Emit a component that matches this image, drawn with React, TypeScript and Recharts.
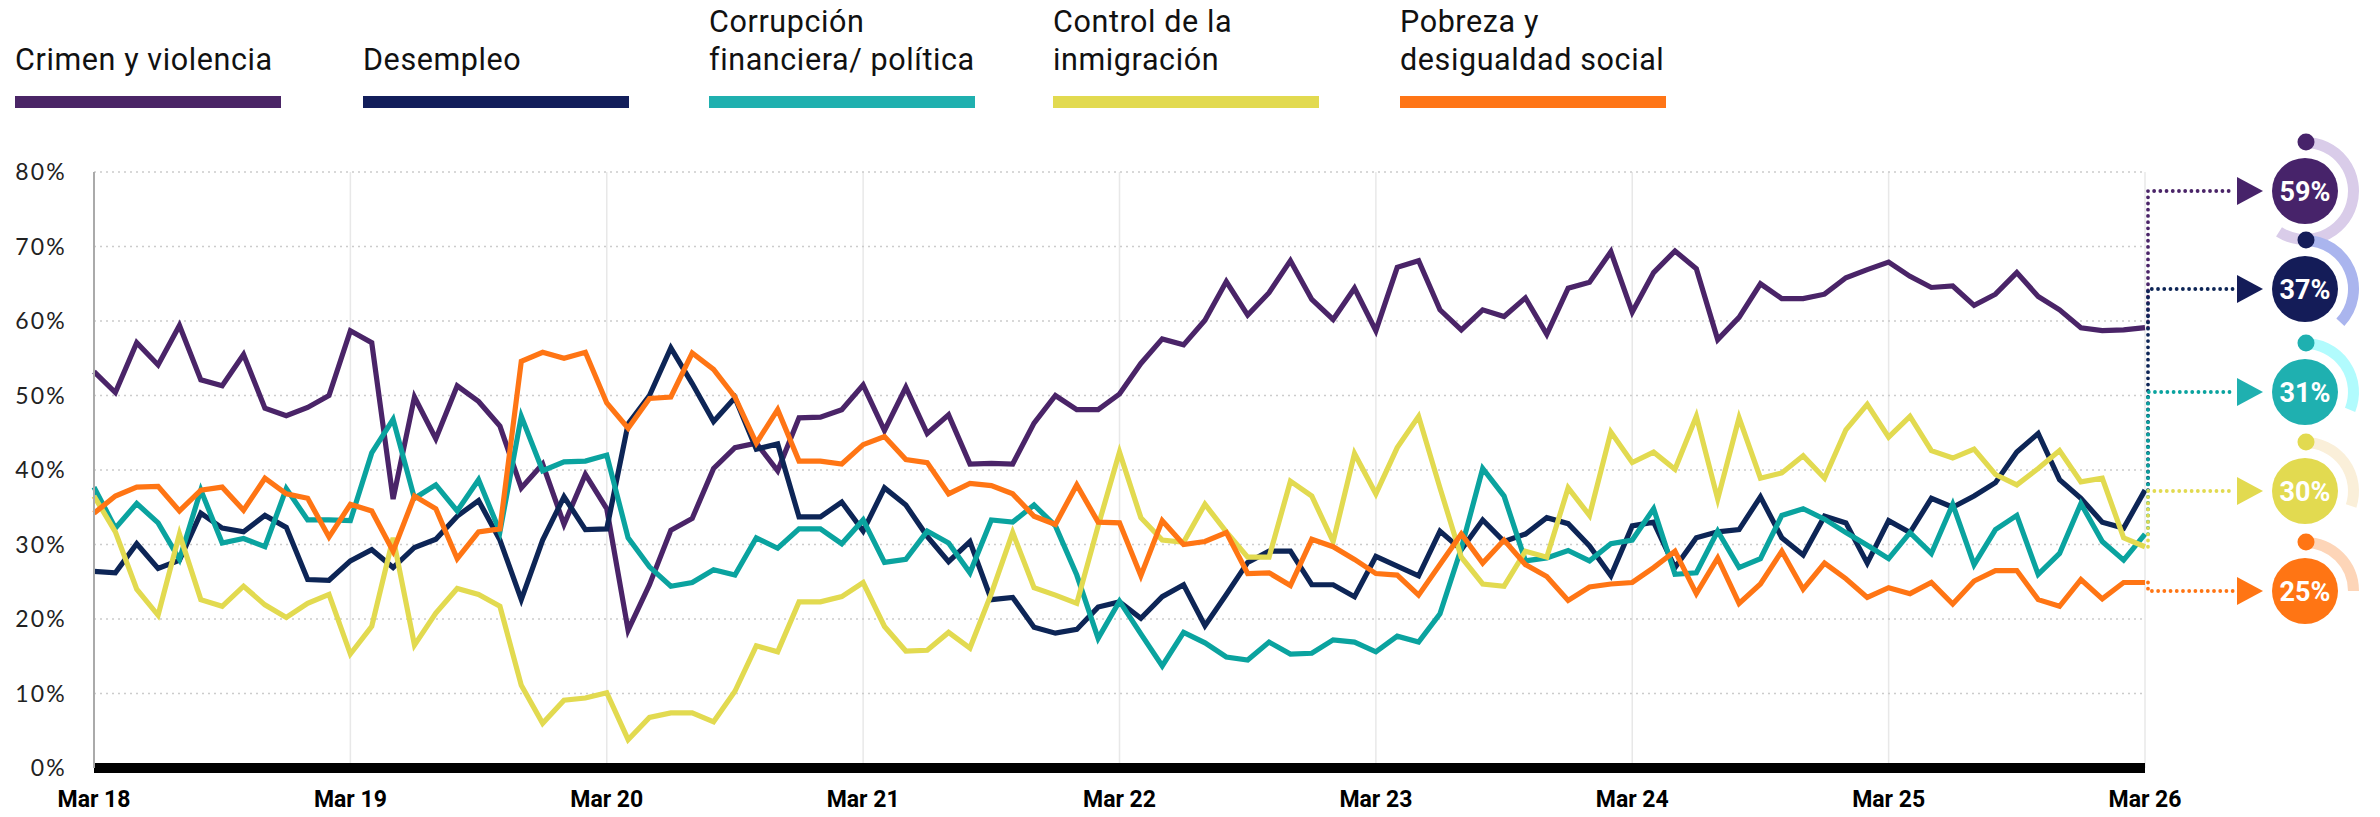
import React from 'react';
import { LineChart, Line, XAxis, YAxis, CartesianGrid } from 'recharts';

// ---------- categories ----------
const monthNames = ['Ene', 'Feb', 'Mar', 'Abr', 'May', 'Jun', 'Jul', 'Ago', 'Sep', 'Oct', 'Nov', 'Dic'];
const months: string[] = [];
for (let i = 0; i < 97; i++) {
  const m = (2 + i) % 12;
  const y = 18 + Math.floor((2 + i) / 12);
  months.push(`${monthNames[m]} ${y}`);
}
const xTicks = [0, 12, 24, 36, 48, 60, 72, 84, 96];
const yTicks = [0, 10, 20, 30, 40, 50, 60, 70, 80];

// ---------- series values (%) ----------
const crimen = [
  53.2, 50.4, 57.1, 54.1, 59.4, 52.1, 51.3, 55.5, 48.3, 47.3, 48.4, 50.0, 58.7,
  57.1, 36.1, 49.8, 44.2, 51.3, 49.2, 45.9, 37.6, 40.8, 32.7, 39.4, 34.8,
  18.5, 24.6, 31.9, 33.5, 40.2, 43.0, 43.6, 39.9, 47.0, 47.1, 48.1, 51.4,
  45.3, 51.1, 44.9, 47.4, 40.8, 40.9, 40.8, 46.3, 50.0, 48.1, 48.1, 50.2,
  54.3, 57.6, 56.8, 60.1, 65.3, 60.8, 63.8, 68.1, 62.9, 60.2, 64.4, 58.7,
  67.2, 68.1, 61.5, 58.8, 61.5, 60.6, 63.1, 58.2, 64.4, 65.2, 69.3, 61.2,
  66.5, 69.4, 67.0, 57.5, 60.5, 65.0, 63.0, 63.0, 63.6, 65.8, 66.9, 67.9,
  66.0, 64.5, 64.7, 62.1, 63.6, 66.5, 63.3, 61.5, 59.1, 58.7, 58.8, 59.1,
];
const desempleo = [
  26.4, 26.2, 30.1, 26.8, 27.9, 34.2, 32.2, 31.7, 33.9, 32.3, 25.3, 25.2, 27.8,
  29.3, 26.9, 29.6, 30.7, 33.8, 35.9, 30.6, 22.6, 30.6, 36.4, 32.0, 32.1,
  46.2, 50.0, 56.4, 51.6, 46.5, 49.7, 42.8, 43.5, 33.7, 33.7, 35.7, 31.8,
  37.6, 35.3, 31.1, 27.7, 30.4, 22.6, 22.9, 18.9, 18.1, 18.6, 21.6, 22.3,
  20.1, 23.0, 24.6, 19.1, 23.3, 27.6, 29.1, 29.1, 24.6, 24.6, 23.0, 28.4,
  27.1, 25.8, 31.8, 29.3, 33.3, 30.4, 31.4, 33.6, 32.8, 29.8, 25.8, 32.5,
  33.0, 26.9, 30.9, 31.7, 32.0, 36.4, 30.9, 28.6, 33.8, 32.9, 27.5, 33.2,
  31.6, 36.2, 35.0, 36.5, 38.3, 42.4, 44.9, 38.7, 36.2, 33.0, 32.2, 37.3,
];
const corrupcion = [
  37.7, 32.2, 35.5, 32.9, 28.0, 37.3, 30.2, 30.8, 29.7, 37.5, 33.3, 33.3, 33.2,
  42.3, 46.8, 36.2, 38.0, 34.5, 38.7, 31.7, 47.2, 39.9, 41.1, 41.2, 42.0,
  30.9, 27.0, 24.4, 24.9, 26.6, 25.9, 30.9, 29.5, 32.1, 32.1, 30.1, 33.3,
  27.6, 28.0, 31.8, 30.2, 26.2, 33.3, 33.0, 35.3, 32.5, 25.9, 17.4, 22.4,
  18.0, 13.7, 18.2, 16.8, 14.9, 14.5, 16.9, 15.3, 15.4, 17.2, 16.9, 15.6,
  17.7, 16.9, 20.7, 29.5, 40.2, 36.5, 27.8, 28.2, 29.2, 27.8, 30.1, 30.6,
  34.8, 26.0, 26.2, 31.8, 26.9, 28.1, 33.9, 34.8, 33.4, 31.6, 29.9, 28.1,
  31.6, 28.8, 35.4, 27.3, 32.0, 33.9, 26.0, 28.8, 35.5, 30.4, 27.9, 31.4,
];
const inmigracion = [
  36.5, 31.7, 24.0, 20.5, 31.4, 22.6, 21.7, 24.4, 21.9, 20.2, 22.1, 23.3, 15.3,
  19.0, 30.9, 16.5, 20.8, 24.1, 23.3, 21.7, 11.1, 6.0, 9.1, 9.4, 10.1,
  3.8, 6.8, 7.4, 7.4, 6.2, 10.3, 16.4, 15.6, 22.3, 22.3, 23.0, 24.9,
  19.0, 15.7, 15.8, 18.2, 16.1, 23.4, 31.6, 24.2, 23.2, 22.1, 32.5, 42.4,
  33.6, 30.6, 30.3, 35.4, 31.7, 28.3, 28.3, 38.5, 36.5, 30.4, 42.2, 36.8,
  43.0, 47.2, 37.6, 28.3, 24.7, 24.4, 29.1, 28.3, 37.6, 33.9, 45.1, 41.0,
  42.4, 40.1, 47.2, 36.1, 47.0, 38.9, 39.6, 41.9, 38.9, 45.4, 48.8, 44.4,
  47.2, 42.6, 41.6, 42.8, 39.4, 38.0, 40.2, 42.6, 38.4, 38.9, 30.9, 29.7,
];
const pobreza = [
  34.2, 36.5, 37.7, 37.8, 34.5, 37.3, 37.7, 34.6, 38.9, 36.8, 36.2, 31.0, 35.4,
  34.5, 29.1, 36.5, 34.8, 28.1, 31.7, 32.1, 54.6, 55.8, 55.0, 55.8, 49.0,
  45.6, 49.6, 49.8, 55.7, 53.5, 49.8, 43.6, 48.1, 41.2, 41.2, 40.8, 43.4,
  44.5, 41.4, 41.0, 36.8, 38.2, 37.9, 36.8, 33.8, 32.7, 38.0, 33.0, 32.9,
  25.8, 33.2, 30.0, 30.4, 31.6, 26.1, 26.2, 24.5, 30.7, 29.7, 28.0, 26.1,
  25.9, 23.2, 27.3, 31.4, 27.5, 30.6, 27.3, 25.7, 22.5, 24.3, 24.7, 24.9,
  26.9, 29.1, 23.4, 28.2, 22.1, 24.7, 29.1, 24.0, 27.5, 25.4, 22.9, 24.2,
  23.4, 24.9, 22.0, 25.1, 26.5, 26.5, 22.6, 21.7, 25.3, 22.7, 24.9, 24.9,
];

const data = months.map((m, i) => ({
  t: i,
  month: m,
  crimen: crimen[i],
  desempleo: desempleo[i],
  corrupcion: corrupcion[i],
  inmigracion: inmigracion[i],
  pobreza: pobreza[i],
}));
const LAST = months.length - 1;

type SeriesDef = {
  key: string;
  label: string[];
  line: string;
  swatch: string;
  badge: string;
  arc: string;
  badgeY: number;
};

const series: SeriesDef[] = [
  { key: 'crimen', label: ['Crimen y violencia'], line: '#4a2468', swatch: '#4a2566', badge: '#47236a', arc: '#d9cce9', badgeY: 191 },
  { key: 'desempleo', label: ['Desempleo'], line: '#0d2556', swatch: '#121e5b', badge: '#141c58', arc: '#aab5ee', badgeY: 289 },
  { key: 'corrupcion', label: ['Corrupción', 'financiera/ política'], line: '#0aa39f', swatch: '#1fb0af', badge: '#1fb0b0', arc: '#b1fbfd', badgeY: 392 },
  { key: 'inmigracion', label: ['Control de la', 'inmigración'], line: '#e2da50', swatch: '#e2da50', badge: '#e2da50', arc: '#faefd9', badgeY: 491 },
  { key: 'pobreza', label: ['Pobreza y', 'desigualdad social'], line: '#ff7514', swatch: '#ff7516', badge: '#ff7514', arc: '#fdd5b8', badgeY: 591 },
];
const legendX = [15, 363, 709, 1053, 1400];

function Badge({ cx, cy, value, s }: { cx: number; cy: number; value: number; s: SeriesDef }) {
  const X = cx + 3;
  const ty = s.badgeY;
  const arrowBase = 2237;
  const arrowTip = 2263;
  const ccx = 2305;
  const R = 48.5;
  const pct = Math.round(value);
  const ang = (pct / 100) * 2 * Math.PI;
  const sx = ccx;
  const sy = ty - R;
  const ex = ccx + R * Math.sin(ang);
  const ey = ty - R * Math.cos(ang);
  const large = ang > Math.PI ? 1 : 0;
  return (
    <g>
      <path
        d={`M${X},${cy} L${X},${ty} L${arrowBase - 4},${ty}`}
        stroke={s.line}
        strokeWidth={3.8}
        strokeDasharray="0.01 6.2"
        strokeLinecap="round"
        fill="none"
      />
      <path d={`M${arrowBase},${ty - 14} L${arrowTip},${ty} L${arrowBase},${ty + 14} Z`} fill={s.badge} />
      <path d={`M${sx},${sy} A${R},${R} 0 ${large} 1 ${ex},${ey}`} stroke={s.arc} strokeWidth={11} fill="none" />
      <circle cx={ccx + 1} cy={ty - 49} r={8.5} fill={s.badge} />
      <circle cx={ccx} cy={ty} r={33} fill={s.badge} />
      <text
        x={ccx}
        y={ty + 1}
        textAnchor="middle"
        dominantBaseline="central"
        fill="#ffffff"
        fontFamily="Roboto, sans-serif"
        fontWeight={700}
        fontSize={27}
      >
        {`${pct}%`}
      </text>
    </g>
  );
}

export default function App() {
  return (
    <div style={{ position: 'absolute', left: 0, top: 0, width: 2380, height: 817, background: '#ffffff', overflow: 'hidden' }}>
      {series.map((s, i) => (
        <div key={s.key} style={{ position: 'absolute', left: legendX[i], top: 0, width: 340 }}>
          <div
            style={{
              height: 79,
              display: 'flex',
              flexDirection: 'column',
              justifyContent: 'flex-end',
              fontFamily: 'Roboto, sans-serif',
              fontSize: 30.5,
              lineHeight: '38px',
              letterSpacing: 0.6,
              color: '#111111',
              whiteSpace: 'nowrap',
            }}
          >
            {s.label.map((l) => (
              <div key={l}>{l}</div>
            ))}
          </div>
          <div style={{ position: 'absolute', left: 0, top: 96, width: 266, height: 12, background: s.swatch }} />
        </div>
      ))}
      <div style={{ position: 'absolute', left: 0, top: 0 }}>
        <LineChart width={2380} height={817} data={data} margin={{ top: 172, right: 235, bottom: 0, left: 0 }}>
          <CartesianGrid horizontal={false} stroke="#e8e8e8" strokeWidth={1.5} />
          <CartesianGrid vertical={false} stroke="#cccccc" strokeWidth={1.5} strokeDasharray="2 4" />
          <XAxis
            dataKey="t"
            type="number"
            domain={[0, 96]}
            ticks={xTicks}
            tickFormatter={(v: number) => months[v]}
            height={49}
            axisLine={{ stroke: '#000000', strokeWidth: 10 }}
            tickLine={false}
            tickSize={0}
            tickMargin={23}
            tick={{ fill: '#000000', fontSize: 23, fontWeight: 700, fontFamily: 'Roboto, sans-serif' }}
            interval={0}
          />
          <YAxis
            domain={[0, 80]}
            ticks={yTicks}
            tickFormatter={(v: number) => `${v}%`}
            width={94}
            axisLine={{ stroke: '#aaaaaa', strokeWidth: 2 }}
            tickLine={false}
            tickSize={0}
            tickMargin={27}
            tick={{ fill: '#222222', fontSize: 23, fontFamily: 'Lato, sans-serif', letterSpacing: 2.2 }}
            interval={0}
          />
          {series.map((s) => (
            <Line
              key={s.key}
              type="linear"
              dataKey={s.key}
              stroke={s.line}
              strokeWidth={5.2}
              isAnimationActive={false}
              activeDot={false}
              dot={(p: any) =>
                p.index === LAST ? (
                  <Badge key={`b-${s.key}`} cx={p.cx} cy={p.cy} value={p.value} s={s} />
                ) : (
                  <g key={`d-${s.key}-${p.index}`} />
                )
              }
            />
          ))}
        </LineChart>
      </div>
    </div>
  );
}
